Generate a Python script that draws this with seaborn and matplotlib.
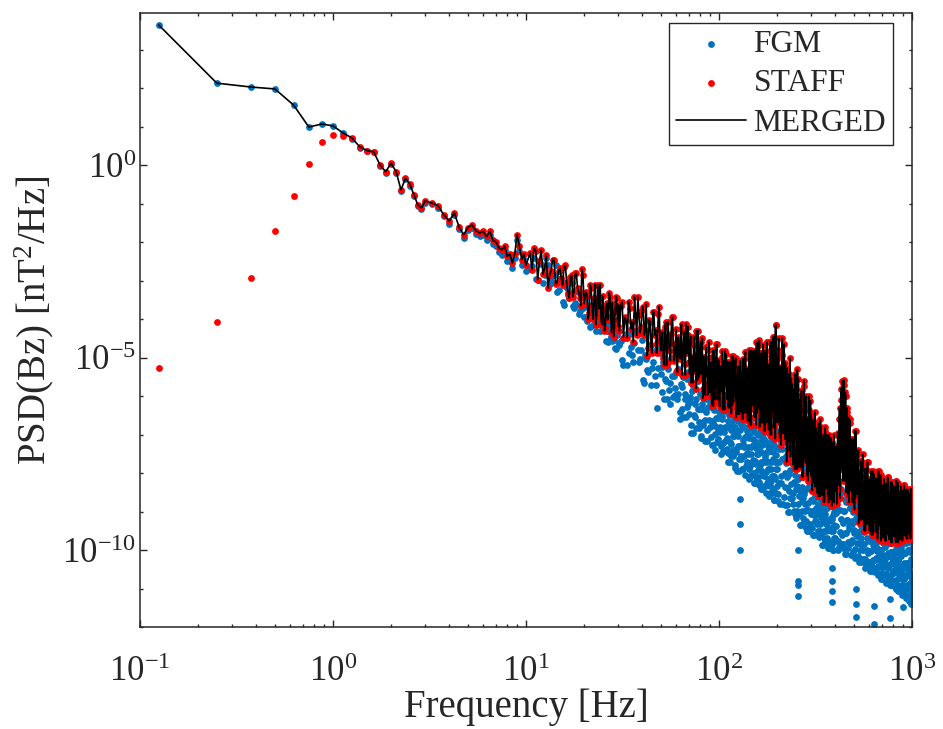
import numpy as np
import pandas as pd
import matplotlib.pyplot as plt
import seaborn as sns
from matplotlib.ticker import LogLocator, NullFormatter

# ---- data (PSD values given as log10 of nT^2/Hz) ----

# lowest bins, where FGM and STAFF disagree
freq_low = [0.125, 0.25, 0.375, 0.5, 0.625, 0.75, 0.875, 1.0, 1.125]
fgm_low = [3.64, 2.13, 2.03, 1.98, 1.56, 0.99, 1.07, 1.02, 0.84]
staff_low = [-5.26, -4.06, -2.92, -1.70, -0.80, 0.03, 0.60, 0.79, 0.76]

freq_a = [1.25, 1.375, 1.5, 1.625, 1.75, 1.875, 2.0, 2.125, 2.25, 2.375,
          2.5, 2.625, 2.75, 2.875, 3.0]
staff_a = [0.71, 0.48, 0.38, 0.35, 0.01, -0.17, 0.05, -0.17, -0.64, -0.34,
           -0.49, -0.77, -1.03, -1.11, -0.93]
fgm_a = [0.69, 0.45, 0.36, 0.33, -0.01, -0.20, 0.02, -0.20, -0.68, -0.37,
         -0.53, -0.80, -1.07, -1.15, -0.97]

freq_b = [3.25, 3.5, 3.75, 4.0, 4.25, 4.5, 4.75, 5.0, 5.25, 5.5, 5.75, 6.0]
staff_b = [-0.98, -1.05, -1.29, -1.45, -1.24, -1.60, -1.81, -1.62, -1.55, -1.70, -1.76, -1.72]
fgm_b = [-1.02, -1.10, -1.33, -1.52, -1.30, -1.66, -1.88, -1.68, -1.62, -1.78, -1.84, -1.80]

freq_c = [6.25, 6.5, 6.75, 7.0, 7.25, 7.5, 7.75, 8.0, 8.25, 8.5,
          8.75, 9.0, 9.25, 9.5, 9.75, 10.0]
staff_c = [-1.85, -1.72, -1.95, -2.00, -2.15, -2.20, -2.10, -2.37, -2.30, -2.54,
           -2.30, -1.81, -2.10, -2.45, -2.30, -2.60]
fgm_c = [-1.95, -1.80, -2.05, -2.10, -2.25, -2.32, -2.20, -2.48, -2.42, -2.66,
         -2.42, -1.95, -2.22, -2.58, -2.45, -2.75]

freq_d = [10.5, 11, 11.5, 12, 12.5, 13, 13.5, 14, 14.5, 15,
          15.5, 16, 16.5, 17, 17.5, 18, 18.5, 19, 19.5, 20,
          20.5, 21, 21.5, 22, 22.5, 23, 23.5, 24, 24.5, 25,
          25.5, 26, 26.5, 27, 27.5, 28, 28.5, 29, 29.5, 30]
staff_d = [-2.28, -2.15, -2.97, -2.20, -2.68, -3.20, -2.75, -2.45, -3.05, -2.68,
           -3.11, -2.60, -3.32, -2.90, -3.41, -2.81, -3.18, -3.44, -2.70, -3.60,
           -3.30, -4.00, -3.10, -3.65, -3.45, -4.14, -3.10, -3.73, -4.02, -3.39,
           -4.30, -3.69, -4.02, -3.31, -3.91, -3.57, -4.45, -3.74, -3.46, -4.18]
fgm_d = [-2.70, -2.42, -2.98, -2.56, -2.84, -2.60, -3.02, -2.85, -3.30, -2.74,
         -3.55, -3.14, -3.36, -2.99, -3.66, -3.58, -3.30, -3.79, -3.41, -3.93,
         -3.94, -3.68, -4.20, -3.84, -3.62, -4.31, -3.98, -4.13, -3.80, -4.22,
         -4.15, -4.57, -4.30, -4.06, -4.45, -4.57, -4.18, -4.74, -4.41, -4.28]

freq_d2 = [10.75, 11.25, 11.75, 12.25, 12.75, 13.25, 13.75, 14.25, 14.75, 15.25,
           15.75, 16.25, 16.75, 17.25, 17.75, 18.25, 18.75, 19.25, 19.75, 20.25,
           20.75, 21.25, 21.75, 22.25, 22.75, 23.25, 23.75, 24.25, 24.75, 25.25,
           25.75, 26.25, 26.75, 27.25, 27.75, 28.25, 28.75, 29.25, 29.75, 30.25]
staff_d2 = [-2.71, -2.23, -2.49, -2.83, -2.34, -2.86, -2.45, -3.09, -2.75, -2.94,
            -2.64, -3.03, -3.45, -2.86, -3.28, -2.81, -3.28, -3.65, -2.86, -3.39,
            -3.40, -3.85, -3.20, -4.00, -3.10, -3.91, -3.50, -3.10, -4.14, -3.73,
            -4.24, -3.58, -3.97, -3.42, -4.35, -3.85, -4.23, -3.41, -4.01, -3.63]
fgm_d2 = [-2.63, -2.95, -2.49, -3.05, -2.42, -3.09, -2.85, -2.60, -3.23, -2.99,
          -3.63, -3.18, -3.44, -3.06, -3.70, -3.62, -3.86, -3.34, -3.72, -3.48,
          -4.04, -3.62, -3.84, -4.14, -3.71, -4.13, -3.80, -4.31, -4.04, -4.19,
          -4.03, -4.30, -4.60, -4.18, -4.48, -4.25, -4.54, -4.77, -4.28, -4.61]

freq_e = [31, 32, 33, 34, 35, 36, 37, 38, 39, 40,
          41, 42, 43, 44, 45, 46, 47, 48, 49, 50,
          51, 52, 53, 54, 55, 56, 57, 58, 59, 60,
          61, 62, 63, 64, 65, 66, 67, 68, 69, 70,
          71, 72, 73, 74, 75, 76, 77, 78, 79, 80,
          81, 82, 83, 84, 85, 86, 87, 88, 89, 90,
          91, 92, 93, 94, 95, 96, 97, 98, 99, 100]
staff_e = [-3.66, -4.48, -4.01, -3.54, -4.25, -4.60, -3.89, -3.42, -4.36, -3.77,
           -4.41, -3.60, -4.75, -4.07, -4.88, -3.80, -4.28, -4.61, -3.67, -4.82,
           -4.33, -5.20, -4.08, -4.76, -4.51, -5.08, -3.95, -4.64, -4.95, -4.26,
           -5.38, -4.61, -5.03, -4.12, -4.89, -4.33, -5.45, -4.54, -4.19, -5.10,
           -4.60, -5.65, -5.05, -4.45, -5.35, -5.80, -4.90, -4.30, -5.50, -4.75,
           -5.43, -4.50, -5.82, -5.04, -5.97, -4.73, -5.28, -5.66, -4.58, -5.90,
           -5.13, -6.25, -4.81, -5.69, -5.37, -6.09, -4.65, -5.53, -5.93, -5.05]
fgm_e = [-4.57, -5.20, -4.39, -4.89, -4.71, -5.11, -4.30, -4.80, -5.02, -4.53,
         -5.65, -5.04, -5.37, -4.66, -5.26, -4.82, -5.70, -6.30, -4.71, -5.43,
         -5.24, -6.08, -5.60, -5.12, -5.84, -6.20, -5.48, -5.00, -5.96, -5.36,
         -6.08, -5.30, -6.41, -5.76, -6.54, -5.50, -5.95, -6.28, -5.37, -6.47,
         -6.01, -6.95, -5.74, -6.48, -6.21, -6.82, -5.60, -6.34, -6.68, -5.94,
         -7.08, -6.34, -6.75, -5.87, -6.61, -6.07, -7.15, -6.27, -5.94, -6.81,
         -6.28, -7.26, -6.70, -6.14, -6.98, -7.40, -6.56, -6.00, -7.12, -6.42]

freq_e2 = [30.5, 31.5, 32.5, 33.5, 34.5, 35.5, 36.5, 37.5, 38.5, 39.5,
           40.5, 41.5, 42.5, 43.5, 44.5, 45.5, 46.5, 47.5, 48.5, 49.5,
           50.5, 51.5, 52.5, 53.5, 54.5, 55.5, 56.5, 57.5, 58.5, 59.5,
           60.5, 61.5, 62.5, 63.5, 64.5, 65.5, 66.5, 67.5, 68.5, 69.5,
           70.5, 71.5, 72.5, 73.5, 74.5, 75.5, 76.5, 77.5, 78.5, 79.5,
           80.5, 81.5, 82.5, 83.5, 84.5, 85.5, 86.5, 87.5, 88.5, 89.5,
           90.5, 91.5, 92.5, 93.5, 94.5, 95.5, 96.5, 97.5, 98.5, 99.5]
staff_e2 = [-4.31, -3.54, -3.95, -4.48, -3.72, -4.07, -3.42, -4.42, -3.89, -4.19,
            -3.67, -4.28, -4.95, -4.01, -4.68, -3.80, -4.41, -4.88, -3.87, -4.55,
            -4.45, -5.01, -4.20, -5.20, -4.08, -4.83, -4.39, -3.95, -5.08, -4.64,
            -5.31, -4.47, -4.96, -4.26, -5.45, -4.68, -5.17, -4.12, -4.89, -4.40,
            -5.43, -4.45, -4.98, -5.65, -4.68, -5.13, -4.30, -5.58, -4.90, -5.28,
            -4.58, -5.28, -6.05, -4.97, -5.74, -4.73, -5.43, -5.97, -4.81, -5.59,
            -5.29, -6.01, -4.97, -6.25, -4.81, -5.77, -5.21, -4.65, -6.09, -5.53]
fgm_e2 = [-4.66, -5.07, -4.48, -5.20, -4.39, -4.93, -4.62, -4.30, -5.11, -4.80,
          -5.59, -4.93, -5.32, -4.77, -5.70, -5.10, -5.48, -4.66, -5.26, -4.88,
          -5.90, -5.12, -5.54, -6.08, -5.30, -5.66, -5.00, -6.02, -5.48, -5.78,
          -5.37, -5.95, -6.60, -5.69, -6.34, -5.50, -6.08, -6.54, -5.56, -6.21,
          -6.14, -6.75, -5.87, -6.95, -5.74, -6.55, -6.07, -5.60, -6.82, -6.34,
          -7.02, -6.21, -6.68, -6.00, -7.15, -6.41, -6.88, -5.87, -6.61, -6.14,
          -7.05, -6.14, -6.63, -7.26, -6.35, -6.77, -6.00, -7.19, -6.56, -6.91]

freq_f = [101, 102, 103, 104, 105, 106, 107, 108, 109, 110,
          111, 112, 113, 114, 115, 116, 117, 118, 119, 120,
          121, 122, 123, 124, 125, 126, 127, 128, 129, 130,
          131, 132, 133, 134, 135, 136, 137, 138, 139, 140,
          141, 142, 143, 144, 145, 146, 147, 148, 149, 150,
          151, 152, 153, 154, 155, 156, 157, 158, 159, 160,
          161, 162, 163, 164, 165, 166, 167, 168, 169, 170,
          171, 172, 173, 174, 175, 176, 177, 178, 179, 180,
          181, 182, 183, 184, 185, 186, 187, 188, 189, 190,
          191, 192, 193, 194, 195, 196, 197, 198, 199, 200]
staff_f = [-6.27, -5.39, -5.87, -4.83, -5.71, -5.07, -6.35, -5.31, -4.91, -5.95,
           -5.25, -6.30, -5.70, -5.10, -6.00, -6.45, -5.55, -4.95, -6.15, -5.40,
           -5.93, -5.00, -6.32, -5.54, -6.47, -5.23, -5.78, -6.16, -5.08, -6.40,
           -5.38, -6.60, -5.03, -5.99, -5.64, -6.43, -4.85, -5.81, -6.25, -5.29,
           -6.65, -5.52, -6.14, -4.80, -5.93, -5.11, -6.75, -5.42, -4.91, -6.24,
           -5.03, -6.54, -5.68, -4.82, -6.11, -6.75, -5.46, -4.60, -6.32, -5.25,
           -5.90, -4.55, -6.46, -5.34, -6.69, -4.89, -5.68, -6.24, -4.66, -6.58,
           -5.29, -6.90, -4.83, -6.10, -5.64, -6.67, -4.60, -5.87, -6.44, -5.18,
           -6.87, -5.47, -6.24, -4.58, -5.98, -4.96, -7.00, -5.34, -4.71, -6.36,
           -4.74, -6.81, -5.63, -4.45, -6.22, -7.10, -5.33, -4.15, -6.51, -5.04]
fgm_f = [-6.94, -6.10, -7.29, -6.59, -7.43, -6.31, -6.80, -7.15, -6.17, -7.36,
         -6.65, -7.70, -6.35, -7.18, -6.88, -7.55, -6.20, -7.03, -7.40, -6.58,
         -7.87, -6.96, -7.46, -6.38, -7.29, -6.63, -7.95, -6.88, -6.47, -7.54,
         -6.73, -7.89, -7.23, -6.57, -7.56, -8.05, -7.06, -6.40, -7.72, -6.90,
         -7.49, -6.50, -7.90, -7.08, -8.07, -6.75, -7.33, -7.74, -6.58, -7.99,
         -7.10, -8.25, -6.77, -7.67, -7.34, -8.09, -6.60, -7.51, -7.92, -7.01,
         -8.31, -7.35, -7.88, -6.74, -7.70, -7.00, -8.40, -7.26, -6.83, -7.96,
         -7.10, -8.33, -7.63, -6.93, -7.98, -8.50, -7.45, -6.75, -8.15, -7.28,
         -7.88, -6.80, -8.33, -7.43, -8.51, -7.07, -7.70, -8.15, -6.89, -8.42,
         -7.44, -8.70, -7.08, -8.07, -7.71, -8.52, -6.90, -7.89, -8.34, -7.35]

freq_f2 = [100.5, 101.5, 102.5, 103.5, 104.5, 105.5, 106.5, 107.5, 108.5, 109.5,
           110.5, 111.5, 112.5, 113.5, 114.5, 115.5, 116.5, 117.5, 118.5, 119.5,
           120.5, 121.5, 122.5, 123.5, 124.5, 125.5, 126.5, 127.5, 128.5, 129.5,
           130.5, 131.5, 132.5, 133.5, 134.5, 135.5, 136.5, 137.5, 138.5, 139.5,
           140.5, 141.5, 142.5, 143.5, 144.5, 145.5, 146.5, 147.5, 148.5, 149.5,
           150.5, 151.5, 152.5, 153.5, 154.5, 155.5, 156.5, 157.5, 158.5, 159.5,
           160.5, 161.5, 162.5, 163.5, 164.5, 165.5, 166.5, 167.5, 168.5, 169.5,
           170.5, 171.5, 172.5, 173.5, 174.5, 175.5, 176.5, 177.5, 178.5, 179.5,
           180.5, 181.5, 182.5, 183.5, 184.5, 185.5, 186.5, 187.5, 188.5, 189.5,
           190.5, 191.5, 192.5, 193.5, 194.5, 195.5, 196.5, 197.5, 198.5, 199.5]
staff_f2 = [-6.19, -5.23, -5.79, -4.99, -6.35, -5.47, -6.03, -4.83, -5.71, -5.15,
            -6.08, -5.10, -5.63, -6.30, -5.33, -5.78, -4.95, -6.23, -5.55, -5.93,
            -5.08, -5.78, -6.55, -5.47, -6.24, -5.23, -5.93, -6.47, -5.31, -6.09,
            -5.55, -6.34, -5.20, -6.60, -5.03, -6.08, -5.46, -4.85, -6.43, -5.81,
            -6.55, -5.32, -6.03, -5.01, -6.75, -5.62, -6.34, -4.80, -5.93, -5.21,
            -6.21, -4.82, -5.57, -6.54, -5.14, -5.78, -4.60, -6.43, -5.46, -6.00,
            -4.66, -5.68, -6.80, -5.23, -6.35, -4.89, -5.90, -6.69, -5.00, -6.13,
            -5.52, -6.56, -5.06, -6.90, -4.83, -6.21, -5.41, -4.60, -6.67, -5.87,
            -6.75, -5.22, -6.11, -4.83, -7.00, -5.60, -6.49, -4.58, -5.98, -5.09,
            -6.36, -4.45, -5.48, -6.81, -4.89, -5.77, -4.15, -6.66, -5.33, -6.07]
fgm_f2 = [-6.17, -6.80, -7.50, -6.52, -7.22, -6.31, -6.94, -7.43, -6.38, -7.08,
          -6.80, -7.48, -6.50, -7.70, -6.35, -7.25, -6.73, -6.20, -7.55, -7.03,
          -7.79, -6.80, -7.37, -6.55, -7.95, -7.04, -7.62, -6.38, -7.29, -6.71,
          -7.64, -6.57, -7.14, -7.89, -6.81, -7.31, -6.40, -7.80, -7.06, -7.47,
          -6.58, -7.33, -8.15, -7.00, -7.82, -6.75, -7.49, -8.07, -6.83, -7.66,
          -7.26, -8.00, -6.93, -8.25, -6.77, -7.76, -7.18, -6.60, -8.09, -7.51,
          -8.23, -7.18, -7.79, -6.91, -8.40, -7.44, -8.05, -6.74, -7.70, -7.09,
          -8.06, -6.93, -7.54, -8.33, -7.19, -7.71, -6.75, -8.24, -7.45, -7.89,
          -6.89, -7.70, -8.60, -7.34, -8.24, -7.07, -7.88, -8.51, -7.16, -8.06,
          -7.62, -8.43, -7.26, -8.70, -7.08, -8.16, -7.53, -6.90, -8.52, -7.89]

freq_g = [202, 204, 206, 208, 210, 212, 214, 216, 218, 220,
          222, 224, 226, 228, 230, 232, 234, 236, 238, 240,
          242, 244, 246, 248, 250, 252, 254, 256, 258, 260,
          262, 264, 266, 268, 270, 272, 274, 276, 278, 280,
          282, 284, 286, 288, 290, 292, 294, 296, 298, 300,
          302, 304, 306, 308, 310, 312, 314, 316, 318, 320,
          322, 324, 326, 328, 330, 332, 334, 336, 338, 340,
          342, 344, 346, 348, 350, 352, 354, 356, 358, 360,
          362, 364, 366, 368, 370, 372, 374, 376, 378, 380,
          382, 384, 386, 388, 390, 392, 394, 396, 398, 400]
staff_g = [-6.24, -4.50, -6.97, -5.52, -7.26, -4.94, -5.95, -6.68, -4.65, -7.11,
           -5.81, -7.70, -5.27, -6.76, -6.22, -7.43, -5.00, -6.49, -7.16, -5.68,
           -7.77, -6.34, -7.12, -5.43, -6.86, -5.82, -7.90, -6.21, -5.56, -7.25,
           -6.10, -7.85, -6.85, -5.85, -7.35, -8.10, -6.60, -5.60, -7.60, -6.35,
           -7.38, -6.00, -7.96, -6.81, -8.19, -6.35, -7.15, -7.73, -6.12, -8.07,
           -7.02, -8.45, -6.61, -7.73, -7.32, -8.25, -6.40, -7.53, -8.04, -6.91,
           -8.50, -7.40, -8.00, -6.70, -7.80, -7.00, -8.60, -7.30, -6.80, -8.10,
           -7.19, -8.56, -7.78, -7.00, -8.17, -8.75, -7.58, -6.80, -8.36, -7.39,
           -8.11, -7.00, -8.57, -7.65, -8.76, -7.28, -7.93, -8.39, -7.09, -8.67,
           -7.56, -8.85, -7.19, -8.20, -7.83, -8.67, -7.00, -8.02, -8.48, -7.46]
fgm_g = [-8.71, -7.72, -8.26, -7.09, -8.08, -7.36, -8.80, -7.63, -7.18, -8.35,
         -7.56, -8.82, -8.10, -7.38, -8.46, -9.00, -7.92, -7.20, -8.64, -7.74,
         -8.51, -7.40, -8.97, -8.05, -9.16, -7.68, -8.33, -8.79, -7.49, -9.07,
         -8.09, -9.35, -7.73, -8.72, -8.36, -9.17, -7.55, -8.54, -8.99, -8.00,
         -9.41, -8.42, -8.96, -7.79, -8.78, -8.06, -9.50, -8.33, -7.88, -9.05,
         -8.20, -9.43, -8.73, -8.03, -9.08, -9.60, -8.55, -7.85, -9.25, -8.38,
         -9.05, -8.00, -9.49, -8.61, -9.66, -8.26, -8.88, -9.31, -8.09, -9.58,
         -8.63, -9.85, -8.28, -9.24, -8.89, -9.68, -8.10, -9.06, -9.50, -8.54,
         -9.86, -8.90, -9.43, -8.29, -9.25, -8.55, -9.95, -8.81, -8.38, -9.51,
         -8.68, -9.84, -9.18, -8.52, -9.51, -10.00, -9.01, -8.35, -9.67, -8.85]

freq_g2 = [201, 203, 205, 207, 209, 211, 213, 215, 217, 219,
           221, 223, 225, 227, 229, 231, 233, 235, 237, 239,
           241, 243, 245, 247, 249, 251, 253, 255, 257, 259,
           261, 263, 265, 267, 269, 271, 273, 275, 277, 279,
           281, 283, 285, 287, 289, 291, 293, 295, 297, 299,
           301, 303, 305, 307, 309, 311, 313, 315, 317, 319,
           321, 323, 325, 327, 329, 331, 333, 335, 337, 339,
           341, 343, 345, 347, 349, 351, 353, 355, 357, 359,
           361, 363, 365, 367, 369, 371, 373, 375, 377, 379,
           381, 383, 385, 387, 389, 391, 393, 395, 397, 399]
staff_g2 = [-6.68, -4.79, -5.81, -7.11, -5.23, -6.10, -4.50, -6.97, -5.66, -6.39,
            -5.14, -6.35, -7.70, -5.81, -7.16, -5.41, -6.62, -7.57, -5.54, -6.89,
            -6.34, -7.51, -5.82, -7.90, -5.56, -7.12, -6.21, -5.30, -7.64, -6.73,
            -7.85, -6.35, -7.23, -5.98, -8.10, -6.73, -7.60, -5.73, -7.10, -6.23,
            -7.73, -6.23, -7.04, -8.07, -6.58, -7.27, -6.00, -7.96, -6.92, -7.50,
            -6.50, -7.43, -8.45, -7.02, -8.04, -6.71, -7.63, -8.35, -6.81, -7.84,
            -7.40, -8.30, -7.00, -8.60, -6.80, -8.00, -7.30, -6.60, -8.40, -7.70,
            -8.56, -7.39, -8.07, -7.09, -8.75, -7.68, -8.36, -6.90, -7.97, -7.29,
            -8.39, -7.19, -7.83, -8.67, -7.46, -8.02, -7.00, -8.57, -7.74, -8.20,
            -7.09, -7.93, -8.85, -7.56, -8.48, -7.28, -8.11, -8.76, -7.37, -8.30]
fgm_g2 = [-7.72, -8.53, -7.36, -8.80, -7.18, -8.26, -7.63, -7.00, -8.62, -7.99,
          -8.82, -7.74, -8.37, -7.47, -9.00, -8.01, -8.64, -7.29, -8.28, -7.65,
          -8.79, -7.59, -8.23, -9.07, -7.86, -8.42, -7.40, -8.97, -8.14, -8.60,
          -7.64, -8.45, -9.35, -8.09, -8.99, -7.82, -8.63, -9.26, -7.91, -8.81,
          -8.42, -9.23, -8.06, -9.50, -7.88, -8.96, -8.33, -7.70, -9.32, -8.69,
          -9.43, -8.38, -8.99, -8.11, -9.60, -8.64, -9.25, -7.94, -8.90, -8.29,
          -9.31, -8.18, -8.79, -9.58, -8.44, -8.96, -8.00, -9.49, -8.70, -9.14,
          -8.19, -8.98, -9.85, -8.63, -9.50, -8.36, -9.15, -9.76, -8.45, -9.33,
          -8.90, -9.69, -8.55, -9.95, -8.38, -9.43, -8.81, -8.20, -9.78, -9.16,
          -9.84, -8.85, -9.42, -8.60, -10.00, -9.09, -9.67, -8.43, -9.34, -8.76]

freq_h = [404, 408, 412, 416, 420, 424, 428, 432, 436, 440,
          444, 448, 452, 456, 460, 464, 468, 472, 476, 480,
          484, 488, 492, 496, 500, 504, 508, 512, 516, 520,
          524, 528, 532, 536, 540, 544, 548, 552, 556, 560,
          564, 568, 572, 576, 580, 584, 588, 592, 596, 600,
          604, 608, 612, 616, 620, 624, 628, 632, 636, 640,
          644, 648, 652, 656, 660, 664, 668, 672, 676, 680,
          684, 688, 692, 696, 700, 704, 708, 712, 716, 720,
          724, 728, 732, 736, 740, 744, 748, 752, 756, 760,
          764, 768, 772, 776, 780, 784, 788, 792, 796, 800,
          804, 808, 812, 816, 820, 824, 828, 832, 836, 840,
          844, 848, 852, 856, 860, 864, 868, 872, 876, 880,
          884, 888, 892, 896, 900, 904, 908, 912, 916, 920,
          924, 928, 932, 936, 940, 944, 948, 952, 956, 960,
          964, 968, 972, 976, 980, 984, 988, 992, 996, 1000]
staff_h = [-7.60, -8.80, -6.95, -8.30, -6.60, -8.65, -6.10, -7.90, -5.60, -8.20,
           -5.58, -7.60, -5.90, -8.50, -6.30, -8.00, -6.55, -8.75, -6.60, -8.30,
           -7.31, -8.75, -7.93, -7.11, -8.34, -8.95, -7.72, -6.90, -8.54, -7.52,
           -8.54, -7.40, -9.02, -8.07, -9.21, -7.69, -8.35, -8.83, -7.50, -9.11,
           -8.24, -9.50, -7.88, -8.87, -8.51, -9.32, -7.70, -8.69, -9.14, -8.15,
           -9.51, -8.55, -9.08, -7.94, -8.90, -8.20, -9.60, -8.46, -8.03, -9.16,
           -8.30, -9.53, -8.83, -8.13, -9.18, -9.70, -8.65, -7.95, -9.35, -8.48,
           -9.07, -8.05, -9.50, -8.65, -9.67, -8.31, -8.90, -9.33, -8.14, -9.58,
           -8.60, -9.75, -8.27, -9.17, -8.84, -9.59, -8.10, -9.01, -9.42, -8.51,
           -9.72, -8.81, -9.31, -8.23, -9.14, -8.48, -9.80, -8.73, -8.32, -9.39,
           -8.52, -9.64, -9.00, -8.36, -9.32, -9.80, -8.84, -8.20, -9.48, -8.68,
           -9.18, -8.25, -9.57, -8.79, -9.72, -8.48, -9.03, -9.41, -8.33, -9.65,
           -8.74, -9.75, -8.45, -9.24, -8.95, -9.61, -8.30, -9.10, -9.46, -8.66,
           -9.63, -8.89, -9.30, -8.42, -9.16, -8.62, -9.70, -8.82, -8.49, -9.36,
           -8.66, -9.57, -9.05, -8.53, -9.31, -9.70, -8.92, -8.40, -9.44, -8.79]
fgm_h = [-9.36, -8.40, -9.76, -8.96, -9.92, -8.64, -9.20, -9.60, -8.48, -9.84,
         -8.98, -10.10, -8.66, -9.54, -9.22, -9.94, -8.50, -9.38, -9.78, -8.90,
         -10.12, -9.24, -9.72, -8.68, -9.56, -8.92, -10.20, -9.16, -8.76, -9.80,
         -9.06, -10.15, -9.53, -8.91, -9.84, -10.30, -9.37, -8.75, -9.99, -9.22,
         -9.83, -8.90, -10.22, -9.44, -10.37, -9.13, -9.68, -10.06, -8.98, -10.30,
         -9.47, -10.55, -9.16, -10.01, -9.70, -10.40, -9.00, -9.85, -10.24, -9.39,
         -10.57, -9.72, -10.19, -9.18, -10.03, -9.41, -10.65, -9.64, -9.26, -10.26,
         -9.51, -10.60, -9.98, -9.36, -10.29, -10.75, -9.82, -9.20, -10.44, -9.67,
         -10.23, -9.30, -10.62, -9.84, -10.77, -9.53, -10.08, -10.46, -9.38, -10.70,
         -9.82, -10.90, -9.51, -10.36, -10.05, -10.75, -9.35, -10.20, -10.59, -9.74,
         -10.92, -10.04, -10.52, -9.48, -10.36, -9.72, -11.00, -9.96, -9.56, -10.60,
         -9.77, -10.89, -10.25, -9.61, -10.57, -11.05, -10.09, -9.45, -10.73, -9.93,
         -10.49, -9.50, -10.90, -10.08, -11.07, -9.75, -10.33, -10.74, -9.58, -10.99,
         -10.06, -11.25, -9.72, -10.66, -10.32, -11.08, -9.55, -10.49, -10.91, -9.98,
         -11.31, -10.32, -10.86, -9.69, -10.68, -9.96, -11.40, -10.23, -9.78, -10.95]

freq_h2 = [402, 406, 410, 414, 418, 422, 426, 430, 434, 438,
           442, 446, 450, 454, 458, 462, 466, 470, 474, 478,
           482, 486, 490, 494, 498, 502, 506, 510, 514, 518,
           522, 526, 530, 534, 538, 542, 546, 550, 554, 558,
           562, 566, 570, 574, 578, 582, 586, 590, 594, 598,
           602, 606, 610, 614, 618, 622, 626, 630, 634, 638,
           642, 646, 650, 654, 658, 662, 666, 670, 674, 678,
           682, 686, 690, 694, 698, 702, 706, 710, 714, 718,
           722, 726, 730, 734, 738, 742, 746, 750, 754, 758,
           762, 766, 770, 774, 778, 782, 786, 790, 794, 798,
           802, 806, 810, 814, 818, 822, 826, 830, 834, 838,
           842, 846, 850, 854, 858, 862, 866, 870, 874, 878,
           882, 886, 890, 894, 898, 902, 906, 910, 914, 918,
           922, 926, 930, 934, 938, 942, 946, 950, 954, 958,
           962, 966, 970, 974, 978, 982, 986, 990, 994, 998]
staff_h2 = [-8.40, -7.30, -8.70, -7.00, -8.20, -6.30, -8.40, -5.80, -7.60, -5.65,
            -7.20, -5.70, -8.20, -6.00, -7.90, -6.40, -8.60, -6.60, -7.70, -6.70,
            -8.44, -7.11, -7.82, -8.75, -7.41, -8.03, -6.90, -8.64, -7.72, -8.23,
            -7.50, -8.35, -9.30, -7.97, -8.92, -7.69, -8.54, -9.21, -7.78, -8.73,
            -8.42, -9.23, -8.06, -9.50, -7.88, -8.96, -8.33, -7.70, -9.32, -8.69,
            -9.43, -8.38, -8.99, -8.11, -9.60, -8.64, -9.25, -7.94, -8.90, -8.29,
            -9.26, -8.13, -8.74, -9.53, -8.39, -8.91, -7.95, -9.44, -8.65, -9.09,
            -8.14, -8.90, -9.75, -8.56, -9.41, -8.31, -9.07, -9.67, -8.39, -9.24,
            -8.76, -9.50, -8.43, -9.75, -8.27, -9.26, -8.68, -8.10, -9.59, -9.01,
            -9.64, -8.65, -9.22, -8.40, -9.80, -8.89, -9.47, -8.23, -9.14, -8.56,
            -9.40, -8.36, -8.92, -9.64, -8.60, -9.08, -8.20, -9.56, -8.84, -9.24,
            -8.33, -9.03, -9.80, -8.72, -9.49, -8.48, -9.18, -9.72, -8.56, -9.34,
            -8.88, -9.53, -8.59, -9.75, -8.45, -9.32, -8.81, -8.30, -9.61, -9.10,
            -9.57, -8.76, -9.23, -8.55, -9.70, -8.96, -9.43, -8.42, -9.16, -8.69,
            -9.38, -8.53, -8.99, -9.57, -8.73, -9.12, -8.40, -9.51, -8.92, -9.25]
fgm_h2 = [-9.04, -9.76, -8.72, -10.00, -8.56, -9.52, -8.96, -8.40, -9.84, -9.28,
          -9.94, -8.98, -9.54, -8.74, -10.10, -9.22, -9.78, -8.58, -9.46, -8.90,
          -9.80, -8.76, -9.32, -10.04, -9.00, -9.48, -8.60, -9.96, -9.24, -9.64,
          -8.83, -9.53, -10.30, -9.22, -9.99, -8.98, -9.68, -10.22, -9.06, -9.84,
          -9.52, -10.22, -9.21, -10.45, -9.06, -9.99, -9.44, -8.90, -10.30, -9.75,
          -10.40, -9.47, -10.01, -9.23, -10.55, -9.70, -10.24, -9.08, -9.93, -9.39,
          -10.26, -9.26, -9.80, -10.50, -9.49, -9.95, -9.10, -10.42, -9.72, -10.11,
          -9.28, -9.98, -10.75, -9.67, -10.44, -9.43, -10.13, -10.67, -9.51, -10.29,
          -9.92, -10.62, -9.61, -10.85, -9.46, -10.39, -9.84, -9.30, -10.70, -10.15,
          -10.75, -9.82, -10.36, -9.58, -10.90, -10.05, -10.59, -9.43, -10.28, -9.74,
          -10.60, -9.56, -10.12, -10.84, -9.80, -10.28, -9.40, -10.76, -10.04, -10.44,
          -9.53, -10.25, -11.05, -9.93, -10.73, -9.69, -10.41, -10.97, -9.77, -10.57,
          -10.16, -10.90, -9.83, -11.15, -9.67, -10.66, -10.08, -9.50, -10.99, -10.41,
          -11.08, -10.06, -10.66, -9.81, -11.25, -10.32, -10.91, -9.64, -10.57, -9.98,
          -10.95, -9.78, -10.41, -11.22, -10.05, -10.59, -9.60, -11.13, -10.32, -10.77]

# FGM spin-tone notches (isolated low dots)
notch_freq = [127.875, 128.0, 128.125, 255.75, 255.875, 256.0, 256.125,
              383.75, 383.875, 384.0, 384.125, 511.875, 512.0, 512.125,
              639.875, 640.0, 767.875, 768.0, 896.0]
notch_log = [-8.68, -9.33, -10.0, -9.98, -10.81, -10.9, -11.18,
             -10.45, -10.81, -11.07, -11.35, -11.0, -11.4, -11.74,
             -11.45, -11.92, -11.27, -11.75, -11.48]

xtick_vals = [0.1, 1, 10, 100, 1000]
xtick_labels = [r'$\mathregular{10^{-1}}$', r'$\mathregular{10^{0}}$', r'$\mathregular{10^{1}}$',
                r'$\mathregular{10^{2}}$', r'$\mathregular{10^{3}}$']
ytick_vals = [1e-10, 1e-5, 1e0]
ytick_labels = [r'$\mathregular{10^{-10}}$', r'$\mathregular{10^{-5}}$', r'$\mathregular{10^{0}}$']

# ---- assemble ----
freq_band = (freq_a + freq_b + freq_c + freq_d + freq_d2 + freq_e + freq_e2
             + freq_f + freq_f2 + freq_g + freq_g2 + freq_h + freq_h2)
staff_band = (staff_a + staff_b + staff_c + staff_d + staff_d2 + staff_e + staff_e2
              + staff_f + staff_f2 + staff_g + staff_g2 + staff_h + staff_h2)
fgm_band = (fgm_a + fgm_b + fgm_c + fgm_d + fgm_d2 + fgm_e + fgm_e2
            + fgm_f + fgm_f2 + fgm_g + fgm_g2 + fgm_h + fgm_h2)
assert len(freq_band) == len(staff_band) == len(fgm_band)

fgm_df = pd.DataFrame({'f': freq_low + freq_band + notch_freq,
                       'psd': 10.0 ** np.array(fgm_low + fgm_band + notch_log)})
staff_df = pd.DataFrame({'f': freq_low + freq_band,
                         'psd': 10.0 ** np.array(staff_low + staff_band)})
# merged spectrum: FGM at the lowest bins, STAFF above
merged_df = pd.DataFrame({'f': freq_low + freq_band,
                          'psd': 10.0 ** np.array(fgm_low + staff_band)})
merged_df = merged_df.sort_values('f')

# ---- plot ----
sns.set_style('ticks')
plt.rcParams['font.family'] = ['Liberation Serif', 'DejaVu Serif']
plt.rcParams['mathtext.fontset'] = 'custom'
plt.rcParams['mathtext.rm'] = 'Liberation Serif'
plt.rcParams['mathtext.it'] = 'Liberation Serif:italic'
plt.rcParams['mathtext.bf'] = 'Liberation Serif:bold'

fig, ax = plt.subplots(figsize=(9.43, 7.29), dpi=100)
fig.subplots_adjust(left=0.1485, right=0.967, bottom=0.1395, top=0.9826)
ax.set_xscale('log')
ax.set_yscale('log')

sns.scatterplot(data=fgm_df, x='f', y='psd', ax=ax, color='#0072BD', s=24,
                linewidth=0, label='FGM', zorder=2)
sns.scatterplot(data=staff_df, x='f', y='psd', ax=ax, color='#FF0000', s=24,
                linewidth=0, label='STAFF', zorder=3)
sns.lineplot(data=merged_df, x='f', y='psd', ax=ax, color='k', linewidth=1.2,
             estimator=None, sort=False, label='MERGED', zorder=4)

ax.set_xlim(0.1, 1000)
ax.set_ylim(1e-12, 10 ** 3.96)
ax.set_xticks(xtick_vals, labels=xtick_labels)
ax.xaxis.set_minor_locator(LogLocator(base=10, subs=np.arange(2, 10), numticks=20))
ax.xaxis.set_minor_formatter(NullFormatter())
ax.set_yticks(ytick_vals, labels=ytick_labels)
ax.yaxis.set_minor_locator(LogLocator(base=10, subs=(1.0,), numticks=40))
ax.yaxis.set_minor_formatter(NullFormatter())

ax.tick_params(which='both', direction='in', top=True, right=True,
               color='#262626', labelcolor='#262626', width=1.0)
ax.tick_params(which='major', length=5, labelsize=25)
ax.tick_params(which='minor', length=2.5)
ax.tick_params(axis='x', which='major', pad=21)
ax.tick_params(axis='y', which='major', pad=3)
for sp in ax.spines.values():
    sp.set_color('#262626')
    sp.set_linewidth(1.1)

ax.set_xlabel('Frequency [Hz]', fontsize=28, color='#262626', labelpad=-1)
ax.set_ylabel('PSD(Bz) [nT$^{2}$/Hz]', fontsize=28, color='#262626', labelpad=4)

leg = ax.legend(loc='upper right', bbox_to_anchor=(893 / 943, 1 - 23 / 729),
                bbox_transform=fig.transFigure, borderaxespad=0, frameon=True,
                fancybox=False, edgecolor='#262626', framealpha=1, fontsize=22.7,
                labelspacing=0.33, borderpad=0.22, handlelength=2.2, handletextpad=0.25)
leg.get_frame().set_linewidth(1.0)

plt.savefig('out.png', dpi=100)
